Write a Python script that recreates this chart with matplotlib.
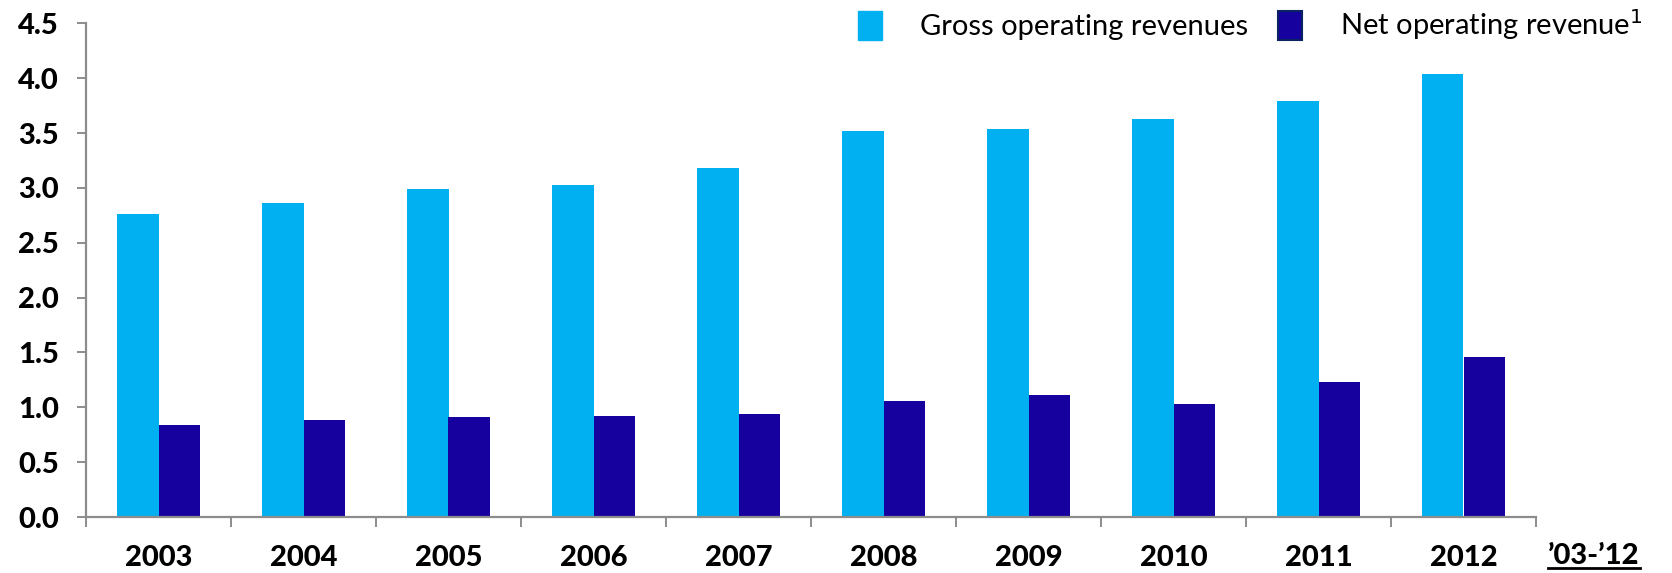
import numpy as np
import matplotlib
matplotlib.use("Agg")
import matplotlib.pyplot as plt
from matplotlib.patches import Patch
from matplotlib.lines import Line2D

# Data
years = ["2003", "2004", "2005", "2006", "2007", "2008", "2009", "2010", "2011", "2012"]
gross = [2.76, 2.86, 2.99, 3.03, 3.18, 3.52, 3.54, 3.63, 3.79, 4.04]
net = [0.84, 0.88, 0.91, 0.92, 0.94, 1.06, 1.11, 1.03, 1.23, 1.46]
yticks = [0.0, 0.5, 1.0, 1.5, 2.0, 2.5, 3.0, 3.5, 4.0, 4.5]

gross_color = "#00B0F0"
net_color = "#16009E"
axis_gray = "#8C8C8C"

plt.rcParams['font.family'] = ['Lato', 'DejaVu Sans']

W, H = 1672, 573
fig = plt.figure(figsize=(W / 100, H / 100), dpi=100)
ax = fig.add_axes([86 / W, (H - 517) / H, (1536 - 86) / W, (517 - 23.4) / H])

x = np.arange(len(years))
bw = 0.286
ax.bar(x - bw / 2, gross, width=bw, color=gross_color, edgecolor="none")
ax.bar(x + bw / 2, net, width=bw, color=net_color, edgecolor="none")

ax.set_xlim(-0.5, len(years) - 0.5)
ax.set_ylim(0, 4.5)

for s in ["top", "right"]:
    ax.spines[s].set_visible(False)
for s in ["left", "bottom"]:
    ax.spines[s].set_color(axis_gray)
    ax.spines[s].set_linewidth(1.6)

ax.set_yticks(yticks)
ax.set_yticklabels([f"{v:.1f}" for v in yticks], fontsize=21, fontweight="black")
ax.tick_params(axis="y", length=6.5, width=1.4, color=axis_gray, pad=13)

ax.set_xticks(x)
ax.set_xticklabels(years, fontsize=21, fontweight="black")
ax.tick_params(axis="x", which="major", length=0, pad=20)
ax.set_xticks(np.arange(-0.5, len(years)), minor=True)
ax.tick_params(axis="x", which="minor", length=7, width=1.4, color=axis_gray, direction="out")

# '03-'12 label with underline
lbl = fig.text(1594 / W, (H - 556) / H, "\u201903-\u201912", fontsize=21, fontweight="black",
               ha="center", va="center")
fig.canvas.draw()
bb = lbl.get_window_extent(renderer=fig.canvas.get_renderer())
fig.add_artist(Line2D([bb.x0 / W, bb.x1 / W], [(bb.y0 + 1) / H, (bb.y0 + 1) / H],
                      color="black", linewidth=2.0))

handles = [Patch(facecolor=gross_color, edgecolor=gross_color, label="Gross operating revenues"),
           Patch(facecolor=net_color, edgecolor="#0B2361", linewidth=1.5,
                 label="Net operating revenue$^1$")]
fig.legend(handles=handles, ncol=2, loc="upper right", bbox_to_anchor=(1654 / W, 1.008),
           frameon=False, fontsize=21, handlelength=0.8, handleheight=1.15,
           handletextpad=1.3, columnspacing=1.05, borderaxespad=0.0)

fig.savefig("out.png", dpi=100, facecolor="white")
